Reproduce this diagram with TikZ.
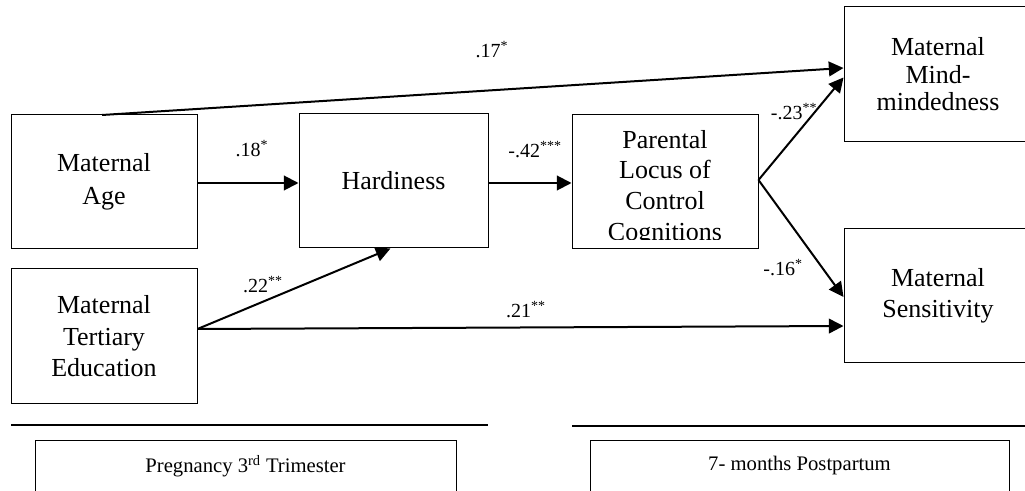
\documentclass[tikz,border=0pt]{standalone}
\usepackage{fontspec}
\setmainfont{Liberation Serif}
\usetikzlibrary{arrows.meta,calc}
\begin{document}
\begin{tikzpicture}[x=0.75pt,y=-0.75pt,
  box/.style={draw, line width=0.75pt, inner sep=0pt, align=center},
  boxfont/.style={font=\fontsize{19.5}{#1}\selectfont},
  arr/.style={line width=1.5pt, -{Triangle[length=11pt,width=11pt]}},
  lab/.style={font=\fontsize{15}{18}\selectfont, inner sep=0pt},
  sepline/.style={line width=1.5pt},
  period/.style={draw, line width=0.75pt, inner sep=0pt}]
\clip (0,0) rectangle (1025,491);
% boxes
\node[box, boxfont=24.75pt, minimum width=139.5pt, minimum height=100.5pt] (age) at (104,182) {Maternal\\Age};
\node[box, boxfont=24pt, minimum width=141.75pt, minimum height=100.5pt] (hard) at (393.5,181) {Hardiness};
\node[box, minimum width=139.5pt, minimum height=100.5pt] (ploc) at (665,182) {};
\begin{scope}
  \clip (573,116) rectangle (757,240);
  \node[align=center, inner sep=0pt, boxfont=22.9pt] (ploctext) at (665,188) {Parental\\Locus of\\Control\\Cognitions};
\end{scope}
\node[box, boxfont=20.6pt, minimum width=141pt, minimum height=101.25pt] (mind) at (938,74.5) {Maternal\\Mind-\\mindedness};
\node[box, boxfont=23.25pt, minimum width=141pt, minimum height=100.5pt] (sens) at (938,296) {Maternal\\Sensitivity};
\node[box, boxfont=23.6pt, minimum width=139.5pt, minimum height=101.25pt] (edu) at (104,336.5) {Maternal\\Tertiary\\Education};
% period boxes
\node[period, minimum width=315.75pt, minimum height=60pt] (preg) at (245.5,481) {};
\node[period, minimum width=314.25pt, minimum height=60pt] (post) at (799.5,481) {};
\node[lab, font=\fontsize{15.5}{18}\selectfont] (pregtext) at (245.5,466) {Pregnancy 3\textsuperscript{rd} Trimester};
\node[lab, font=\fontsize{15.5}{18}\selectfont] (posttext) at (799.5,466) {7- months Postpartum};
% separator lines
\coordinate (l1a) at (11,425);
\coordinate (l1b) at (488,425);
\coordinate (l2a) at (572,426);
\coordinate (l2b) at (1030,426);
\draw[sepline] (l1a) -- (l1b);
\draw[sepline] (l2a) -- (l2b);
% arrows
\coordinate (agetop) at (102,115);
\draw[arr] (agetop) -- ($(mind.west)+(0,-6.5)$);
\draw[arr] ($(age.east)+(0,1)$) -- ($(hard.west)+(0,2)$);
\draw[arr] ($(hard.east)+(0,2)$) -- ($(ploc.west)+(0,1)$);
\coordinate (plocout) at ($(ploc.east)+(0,-2)$);
\draw[arr] (plocout) -- ($(mind.west)+(0,3)$);
\draw[arr] (plocout) -- ($(sens.west)+(0,1)$);
\coordinate (eduout) at ($(edu.east)+(0,-7.5)$);
\draw[arr] (eduout) -- ($(hard.south)+(-3,0)$);
\draw[arr] (eduout) -- ($(sens.west)+(0,30)$);
% labels
\node[lab] (l17) at (492,50) {.17\textsuperscript{*}};
\node[lab] (l18) at (252,149) {.18\textsuperscript{*}};
\node[lab] (l42) at (535,150) {-.42\textsuperscript{***}};
\node[lab] (l23) at (794,112) {-.23\textsuperscript{**}};
\node[lab] (l16) at (783,268) {-.16\textsuperscript{*}};
\node[lab] (l22) at (263,285) {.22\textsuperscript{**}};
\node[lab] (l21) at (526,310) {.21\textsuperscript{**}};
\end{tikzpicture}
\end{document}
